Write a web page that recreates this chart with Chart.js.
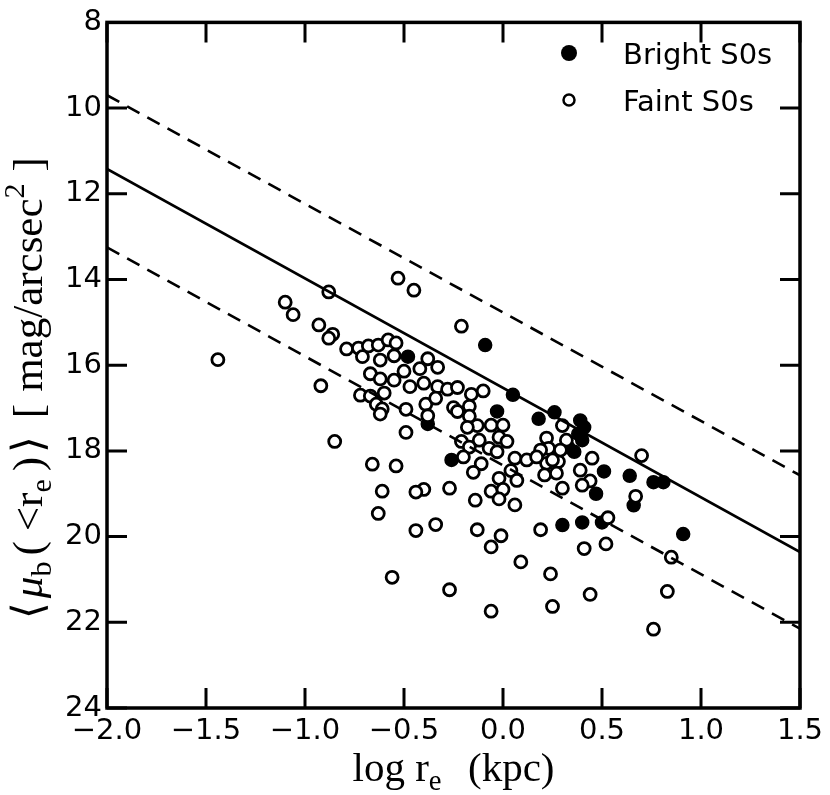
<!DOCTYPE html>
<html>
<head>
<meta charset="utf-8">
<script src="https://cdn.jsdelivr.net/npm/chart.js@4.4.0/dist/chart.umd.min.js"></script>
<style>
  html, body { margin: 0; padding: 0; background: #fff; }
  #wrap { width: 830px; height: 795px; }
</style>
</head>
<body>
<div id="wrap"><canvas id="fp" width="830" height="795"></canvas></div>
<script>
// Fundamental-plane style projection: mean surface brightness vs effective radius

// log r_e (kpc), <mu_b(<r_e)> pairs
const brightS0s = [
  [-0.48, 15.80], [-0.09, 15.53], [0.05, 16.69], [-0.03, 17.08], [-0.38, 17.37],
  [0.18, 17.25], [0.26, 17.10], [0.39, 17.29], [0.41, 17.45], [0.38, 17.60],
  [0.40, 17.75], [0.36, 18.02], [0.33, 17.92], [-0.26, 18.21], [0.51, 18.48],
  [0.64, 18.58], [0.76, 18.73], [0.81, 18.73], [0.47, 19.00], [0.66, 19.27],
  [0.30, 19.73], [0.40, 19.67], [0.50, 19.67], [0.91, 19.94]
];

const faintS0s = [
  [-1.44, 15.87], [-1.10, 14.53], [-1.06, 14.82], [-0.93, 15.06], [-0.92, 16.48],
  [-0.88, 14.29], [-0.85, 17.78], [-0.53, 13.97], [-0.45, 14.25], [-0.21, 15.09],
  [-0.86, 15.28], [-0.88, 15.37], [-0.79, 15.62], [-0.73, 15.60], [-0.68, 15.55],
  [-0.63, 15.53], [-0.58, 15.41], [-0.54, 15.48], [-0.71, 15.80], [-0.62, 15.88],
  [-0.55, 15.78], [-0.50, 16.14], [-0.42, 16.08], [-0.38, 15.85], [-0.33, 16.05],
  [-0.67, 16.20], [-0.62, 16.32], [-0.55, 16.35], [-0.47, 16.50], [-0.40, 16.42],
  [-0.33, 16.50], [-0.28, 16.56], [-0.23, 16.52], [-0.16, 16.68], [-0.10, 16.60],
  [-0.72, 16.70], [-0.67, 16.72], [-0.60, 16.65], [-0.64, 16.91], [-0.61, 17.02],
  [-0.62, 17.14], [-0.49, 17.03], [-0.39, 16.91], [-0.34, 16.77], [-0.38, 17.18],
  [-0.49, 17.57], [-0.25, 16.99], [-0.17, 16.96], [-0.23, 17.08], [-0.17, 17.19],
  [-0.13, 17.41], [-0.18, 17.45], [-0.21, 17.78], [-0.12, 17.75], [-0.07, 17.94],
  [-0.17, 17.91], [-0.20, 18.14], [-0.11, 18.30], [-0.15, 18.50], [-0.06, 17.40],
  [0.00, 17.40], [-0.02, 17.68], [0.02, 17.78], [-0.03, 18.02], [0.06, 18.17],
  [0.12, 18.21], [0.04, 18.46], [-0.02, 18.64], [0.07, 18.69], [-0.06, 18.94],
  [0.00, 18.90], [-0.02, 19.12], [0.06, 19.26], [-0.14, 19.15], [-0.27, 18.87],
  [-0.40, 18.90], [-0.44, 18.96], [-0.66, 18.31], [-0.54, 18.35], [-0.61, 18.94],
  [-0.63, 19.46], [-0.44, 19.86], [-0.34, 19.72], [-0.13, 19.84], [-0.01, 19.98],
  [-0.06, 20.24], [-0.56, 20.95], [-0.27, 21.24], [-0.06, 21.74], [0.22, 17.70],
  [0.23, 17.94], [0.19, 17.98], [0.22, 18.29], [0.21, 18.56], [0.28, 18.25],
  [0.30, 17.41], [0.32, 17.75], [0.29, 17.98], [0.25, 18.21], [0.45, 18.17],
  [0.39, 18.45], [0.44, 18.70], [0.40, 18.80], [0.27, 18.52], [0.30, 18.87],
  [0.17, 18.14], [0.70, 18.11], [0.67, 19.06], [0.53, 19.56], [0.19, 19.84],
  [0.09, 20.59], [0.41, 20.28], [0.52, 20.17], [0.24, 20.87], [0.25, 21.63],
  [0.44, 21.35], [0.83, 21.28], [0.76, 22.16], [0.85, 20.48]
];

// relation and its +/- band, end points
const fitX = [-2.0, 1.5];
const fitY = [11.42, 20.36];
const upperY = [9.70, 18.57];
const lowerY = [13.25, 22.15];

const xTicks = [-2.0, -1.5, -1.0, -0.5, 0.0, 0.5, 1.0, 1.5];
const yTicks = [8, 10, 12, 14, 16, 18, 20, 22, 24];

const toPts = arr => arr.map(p => ({ x: p[0], y: p[1] }));
const linePts = ys => fitX.map((x, i) => ({ x: x, y: ys[i] }));

const TICK_FONT = { family: '"DejaVu Sans"', size: 29 };
const SERIF = '"Liberation Serif", "DejaVu Serif", serif';

// draw a run of text pieces (normal / sub / super) starting at x,y baseline
function drawRuns(ctx, runs, x, y, size) {
  let cx = x;
  runs.forEach(r => {
    const s = size * (r.scale || 1);
    ctx.font = (r.italic ? 'italic ' : '') + s + 'px ' + SERIF;
    ctx.fillText(r.t, cx, y + (r.dy || 0));
    cx += ctx.measureText(r.t).width + (r.gap || 0);
  });
  return cx - x;
}
function runsWidth(ctx, runs, size) {
  let w = 0;
  runs.forEach(r => {
    const s = size * (r.scale || 1);
    ctx.font = (r.italic ? 'italic ' : '') + s + 'px ' + SERIF;
    w += ctx.measureText(r.t).width + (r.gap || 0);
  });
  return w;
}

const framePlugin = {
  id: 'framePlugin',
  afterDraw(chart) {
    const { ctx, chartArea: a, scales } = chart;
    const xs = scales.x, ys = scales.y;
    ctx.save();
    ctx.strokeStyle = '#000';
    ctx.lineWidth = 3.5;
    ctx.strokeRect(a.left, a.top, a.right - a.left, a.bottom - a.top);

    // inward ticks on all four sides
    const tl = 20;
    ctx.lineWidth = 3;
    ctx.beginPath();
    xTicks.forEach(v => {
      const px = xs.getPixelForValue(v);
      ctx.moveTo(px, a.bottom); ctx.lineTo(px, a.bottom - tl);
      ctx.moveTo(px, a.top); ctx.lineTo(px, a.top + tl);
    });
    yTicks.forEach(v => {
      const py = ys.getPixelForValue(v);
      ctx.moveTo(a.left, py); ctx.lineTo(a.left + tl, py);
      ctx.moveTo(a.right, py); ctx.lineTo(a.right - tl, py);
    });
    ctx.stroke();

    // legend
    ctx.fillStyle = '#000';
    ctx.beginPath();
    ctx.arc(569, 53, 8, 0, Math.PI * 2);
    ctx.fill();
    ctx.beginPath();
    ctx.fillStyle = '#fff';
    ctx.lineWidth = 2.5;
    ctx.arc(569, 100, 5.5, 0, Math.PI * 2);
    ctx.fill();
    ctx.stroke();
    ctx.fillStyle = '#000';
    ctx.font = '29px "DejaVu Sans"';
    ctx.textAlign = 'left';
    ctx.textBaseline = 'alphabetic';
    ctx.fillText('Bright S0s', 623, 64);
    ctx.fillText('Faint S0s', 623, 111);

    // x axis title
    const size = 41;
    const xr = [
      { t: 'log r' },
      { t: 'e', scale: 0.7, dy: 9, gap: 6 },
      { t: '  (kpc)' }
    ];
    const xw = runsWidth(ctx, xr, size);
    drawRuns(ctx, xr, (a.left + a.right) / 2 - xw / 2, 781, size);

    // y axis title, rotated
    const ysize = 43;
    const yr = [
      { t: '\u27E8', gap: 4 },
      { t: '\u03BC', italic: true },
      { t: 'b', scale: 0.7, dy: 9, gap: 6 },
      { t: '(', gap: 10 },
      { t: '<r' },
      { t: 'e', scale: 0.7, dy: 9, gap: 8 },
      { t: ')', gap: 4 },
      { t: '\u27E9', gap: 18 },
      { t: '[', gap: 12 },
      { t: 'mag/arcsec' },
      { t: '2', scale: 0.7, dy: -18, gap: 12 },
      { t: ']' }
    ];
    const yw = runsWidth(ctx, yr, ysize);
    ctx.translate(42, 388);
    ctx.rotate(-Math.PI / 2);
    drawRuns(ctx, yr, -yw / 2, 0, ysize);
    ctx.restore();
  }
};

new Chart(document.getElementById('fp'), {
  type: 'scatter',
  data: {
    datasets: [
      {
        label: 'relation',
        data: linePts(fitY),
        showLine: true,
        borderColor: '#000',
        borderWidth: 2.6,
        pointRadius: 0,
        order: 0
      },
      {
        label: 'upper',
        data: linePts(upperY),
        showLine: true,
        borderColor: '#000',
        borderWidth: 2.6,
        borderDash: [14, 9],
        pointRadius: 0,
        order: 0
      },
      {
        label: 'lower',
        data: linePts(lowerY),
        showLine: true,
        borderColor: '#000',
        borderWidth: 2.6,
        borderDash: [14, 9],
        pointRadius: 0,
        order: 0
      },
      {
        label: 'Faint S0s',
        data: toPts(faintS0s),
        pointRadius: 6,
        borderWidth: 2.8,
        borderColor: '#000',
        backgroundColor: '#fff',
        order: 1
      },
      {
        label: 'Bright S0s',
        data: toPts(brightS0s),
        pointRadius: 6.5,
        borderWidth: 1.5,
        borderColor: '#000',
        backgroundColor: '#000',
        order: 2
      }
    ]
  },
  options: {
    responsive: false,
    animation: false,
    layout: { padding: { top: 13, right: 30, left: 0, bottom: 0 } },
    plugins: {
      legend: { display: false },
      tooltip: { enabled: false }
    },
    scales: {
      x: {
        type: 'linear',
        min: -2.0,
        max: 1.5,
        grid: { display: false, drawTicks: false },
        border: { display: false },
        afterBuildTicks: s => { s.ticks = xTicks.map(v => ({ value: v })); },
        afterFit: s => { s.height = 87; },
        ticks: {
          autoSkip: false,
          maxRotation: 0,
          padding: 6,
          color: '#000',
          font: TICK_FONT,
          callback: v => v.toFixed(1).replace('-', '\u2212')
        }
      },
      y: {
        type: 'linear',
        reverse: true,
        min: 8,
        max: 24,
        grid: { display: false, drawTicks: false },
        border: { display: false },
        afterBuildTicks: s => { s.ticks = yTicks.map(v => ({ value: v })); },
        afterFit: s => { s.width = 107; },
        ticks: {
          autoSkip: false,
          padding: 5,
          color: '#000',
          font: TICK_FONT,
          callback: v => String(v)
        }
      }
    }
  },
  plugins: [framePlugin]
});
</script>
</body>
</html>
